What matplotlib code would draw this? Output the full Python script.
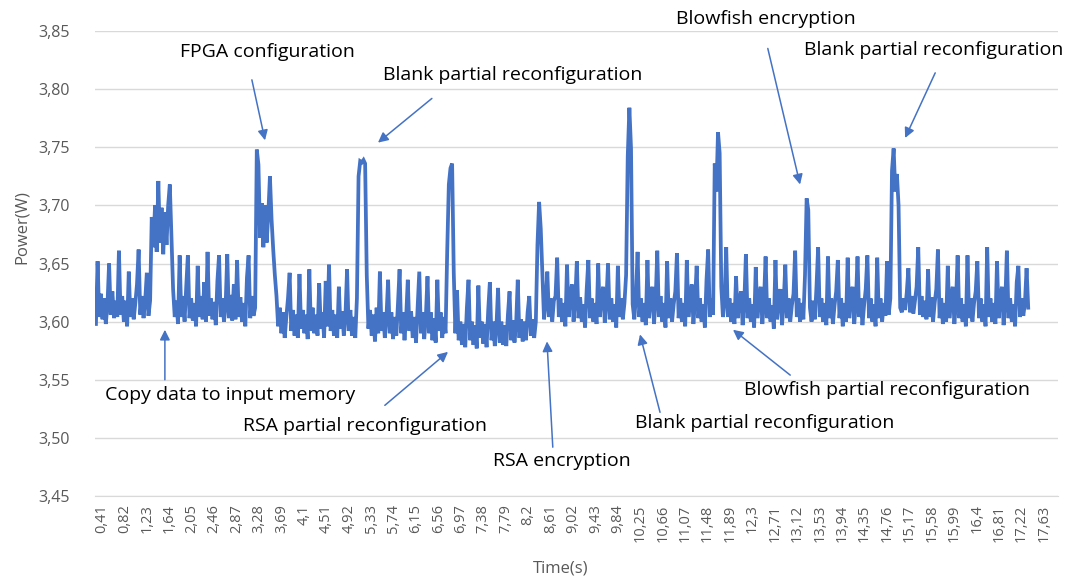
import numpy as np
import matplotlib
matplotlib.use("Agg")
import matplotlib.pyplot as plt

# Power trace sampled every 30 ms, starting at 0.30 s (values in mW)
t_start = 0.30
t_step = 0.03

idle_start = [3598, 3652, 3604, 3624, 3602, 3620, 3598, 3614, 3650, 3606,
              3626, 3603, 3618, 3604, 3661, 3606, 3622, 3600, 3618, 3596,
              3643, 3604, 3620, 3602, 3616, 3632, 3662, 3606, 3622, 3603,
              3618, 3642, 3605, 3618]
copy_data = [3690, 3664, 3700, 3660, 3721, 3668, 3698, 3658, 3694, 3666,
             3700, 3718, 3672]
idle_mid = [3628, 3604, 3618, 3598, 3657, 3604, 3622, 3600, 3630, 3657,
            3603, 3620, 3601, 3616, 3596, 3648, 3604, 3622, 3602, 3634,
            3600, 3660, 3605, 3620, 3602, 3617, 3597, 3635, 3657, 3604,
            3620, 3600, 3614, 3658, 3603, 3623, 3601, 3632, 3602, 3653,
            3604, 3621, 3600, 3616, 3596, 3638, 3657, 3603, 3622, 3605,
            3612]
fpga_config = [3748, 3735, 3672, 3702, 3664, 3700, 3668, 3692, 3725, 3688,
               3662, 3640]
low_band_a = [3622, 3596, 3612, 3590, 3608, 3586, 3604, 3620, 3642, 3592,
              3610, 3588, 3606, 3586, 3641, 3594, 3610, 3590, 3606, 3585,
              3645, 3592, 3612, 3590, 3606, 3588, 3633, 3594, 3608, 3586,
              3635, 3596, 3649, 3592, 3610, 3588, 3606, 3586, 3630, 3594,
              3609, 3588, 3605, 3645, 3592, 3610, 3588, 3604, 3586, 3620]
blank_pr_1 = [3725, 3738, 3737, 3739, 3736]
low_band_b = [3640, 3594, 3610, 3588, 3606, 3583, 3612, 3590, 3643, 3592,
              3608, 3586, 3604, 3636, 3590, 3608, 3585, 3604, 3588, 3615,
              3645, 3590, 3608, 3584, 3604, 3636, 3592, 3609, 3586, 3604,
              3582, 3612, 3643, 3590, 3608, 3585, 3604, 3639, 3590, 3608,
              3584, 3603, 3582, 3636, 3592, 3608, 3586, 3604, 3590, 3660]
rsa_pr = [3718, 3732, 3736]
rsa_run = [3642, 3590, 3627, 3584, 3600, 3580, 3598, 3578, 3612, 3636,
           3584, 3600, 3580, 3597, 3577, 3631, 3586, 3600, 3581, 3598,
           3578, 3610, 3634, 3584, 3600, 3579, 3596, 3629, 3582, 3600,
           3580, 3597, 3579, 3606, 3626, 3584, 3601, 3582, 3598, 3636,
           3586, 3602, 3583, 3600, 3584, 3608, 3622, 3588, 3602, 3586,
           3600]
rsa_enc = [3666, 3703, 3680]
idle_b = [3640, 3602, 3616, 3643, 3604, 3620, 3600, 3618, 3622, 3655,
          3604, 3620, 3600, 3616, 3596, 3649, 3604, 3622, 3632, 3600,
          3618, 3652, 3603, 3621, 3600, 3615, 3595, 3628, 3653, 3603,
          3620, 3600, 3616, 3598, 3650, 3604, 3622, 3630, 3599, 3618,
          3650, 3602, 3620, 3600, 3615, 3595, 3648, 3604, 3620, 3602,
          3616, 3640]
blank_pr_2 = [3742, 3784, 3749]
idle_c = [3615, 3602, 3622, 3660, 3604, 3620, 3600, 3616, 3597, 3653,
          3603, 3620, 3630, 3598, 3618, 3661, 3604, 3622, 3600, 3616,
          3595, 3652, 3603, 3620, 3600, 3615, 3626, 3659, 3603, 3620,
          3600, 3616, 3596, 3653, 3604, 3621, 3632, 3598, 3618, 3648,
          3603, 3620, 3600, 3615, 3595, 3636, 3662, 3604, 3620, 3606]
blowfish_pr = [3736, 3712, 3763, 3745]
idle_d = [3630, 3604, 3618, 3664, 3604, 3620, 3600, 3616, 3598, 3639,
          3603, 3618, 3626, 3597, 3616, 3658, 3603, 3620, 3600, 3615,
          3595, 3647, 3603, 3620, 3630, 3598, 3617, 3656, 3603, 3620,
          3600, 3614, 3594, 3653, 3602, 3619, 3628, 3597, 3616, 3649,
          3603, 3620, 3600, 3614, 3624, 3661, 3604, 3620, 3600, 3616,
          3602, 3640]
blowfish_enc = [3706, 3696]
idle_e = [3612, 3600, 3618, 3602, 3630, 3664, 3604, 3620, 3600, 3616,
          3597, 3656, 3603, 3620, 3598, 3614, 3626, 3653, 3603, 3620,
          3596, 3616, 3600, 3655, 3603, 3620, 3630, 3598, 3616, 3656,
          3604, 3620, 3597, 3614, 3628, 3657, 3603, 3620, 3600, 3615,
          3596, 3655, 3603, 3620, 3600, 3616, 3605, 3652, 3606, 3620]
blank_pr_3 = [3730, 3749, 3712, 3727, 3700]
idle_end = [3612, 3608, 3620, 3610, 3625, 3646, 3608, 3622, 3607, 3618,
            3630, 3664, 3606, 3622, 3604, 3618, 3602, 3645, 3604, 3621,
            3600, 3616, 3628, 3662, 3603, 3620, 3598, 3616, 3600, 3648,
            3603, 3620, 3630, 3598, 3617, 3657, 3603, 3620, 3600, 3615,
            3596, 3657, 3603, 3620, 3600, 3616, 3626, 3652, 3603, 3620,
            3600, 3615, 3596, 3664, 3604, 3620, 3600, 3616, 3598, 3652,
            3603, 3620, 3630, 3597, 3616, 3661, 3603, 3620, 3600, 3615,
            3596, 3634, 3648, 3604, 3620, 3605, 3616, 3646, 3612]

segments = [idle_start, copy_data, idle_mid, fpga_config, low_band_a,
            blank_pr_1, low_band_b, rsa_pr, rsa_run, rsa_enc, idle_b,
            blank_pr_2, idle_c, blowfish_pr, idle_d, blowfish_enc, idle_e,
            blank_pr_3, idle_end]

tick_times = [0.41, 0.82, 1.23, 1.64, 2.05, 2.46, 2.87, 3.28, 3.69, 4.1,
              4.51, 4.92, 5.33, 5.74, 6.15, 6.56, 6.97, 7.38, 7.79, 8.2,
              8.61, 9.02, 9.43, 9.84, 10.25, 10.66, 11.07, 11.48, 11.89, 12.3,
              12.71, 13.12, 13.53, 13.94, 14.35, 14.76, 15.17, 15.58, 15.99,
              16.4, 16.81, 17.22, 17.63]
power_ticks = [3.45, 3.50, 3.55, 3.60, 3.65, 3.70, 3.75, 3.80, 3.85]

# (label, text left/centre, arrow tail, arrow tip) in data coordinates
annotations = [
    ("FPGA configuration", (1.836, 3.832), (3.15, 3.808), (3.39, 3.756)),
    ("Blank partial reconfiguration", (5.546, 3.812), (6.44, 3.792), (5.455, 3.754)),
    ("Blowfish encryption", (10.902, 3.860), (12.58, 3.835), (13.17, 3.718)),
    ("Blank partial reconfiguration", (13.242, 3.834), (15.64, 3.814), (15.09, 3.758)),
    ("Copy data to input memory", (0.465, 3.537), (1.56, 3.550), (1.56, 3.593)),
    ("RSA partial reconfiguration", (2.987, 3.510), (5.58, 3.528), (6.735, 3.574)),
    ("RSA encryption", (7.557, 3.480), (8.65, 3.492), (8.544, 3.583)),
    ("Blank partial reconfiguration", (10.153, 3.513), (10.61, 3.522), (10.244, 3.589)),
    ("Blowfish partial reconfiguration", (12.145, 3.541), (12.99, 3.554), (11.944, 3.593)),
]

BLUE = "#4472C4"
GRID = "#D9D9D9"
LABEL_GREY = "#595959"

plt.rcParams["font.family"] = ["Open Sans", "DejaVu Sans"]

power = np.concatenate([np.array(s, dtype=float) for s in segments]) / 1000.0
time = t_start + t_step * np.arange(len(power))

fig = plt.figure(figsize=(10.67, 5.83), dpi=100)
ax = fig.add_axes([0.089, 0.1492, 0.9026, 0.7976])

ax.plot(time, power, color=BLUE, lw=2.7, solid_joinstyle="miter")

ax.set_xlim(0.282, 17.885)
ax.set_ylim(3.45, 3.85)
ax.set_yticks(power_ticks)
ax.set_yticklabels([f"{v:.2f}".replace(".", ",") for v in power_ticks],
                   fontsize=11.5, color=LABEL_GREY)
ax.set_xticks(tick_times)
ax.set_xticklabels([f"{v:g}".replace(".", ",") for v in tick_times],
                   rotation=90, fontsize=10.5, color=LABEL_GREY)
ax.tick_params(axis="y", length=0, pad=18)
ax.tick_params(axis="x", length=0, pad=6)
ax.grid(axis="y", color=GRID, lw=1)
ax.set_axisbelow(True)
for side in ("top", "right", "left"):
    ax.spines[side].set_visible(False)
ax.spines["bottom"].set_color(GRID)

ax.set_ylabel("Power(W)", fontsize=12, color=LABEL_GREY, va="center")
ax.yaxis.set_label_coords(-0.076, 0.578)
ax.set_xlabel("Time(s)", fontsize=12, color=LABEL_GREY, va="center")
ax.xaxis.set_label_coords(0.483, -0.155)

for label, text_xy, tail_xy, tip_xy in annotations:
    ax.text(text_xy[0], text_xy[1], label, fontsize=14, color="black",
            ha="left", va="center", clip_on=False)
    ax.annotate("", xy=tip_xy, xytext=tail_xy, annotation_clip=False,
                arrowprops=dict(arrowstyle="-|>", color=BLUE, lw=1.1,
                                mutation_scale=15, shrinkA=0, shrinkB=0))

fig.savefig("out.png", dpi=100)
